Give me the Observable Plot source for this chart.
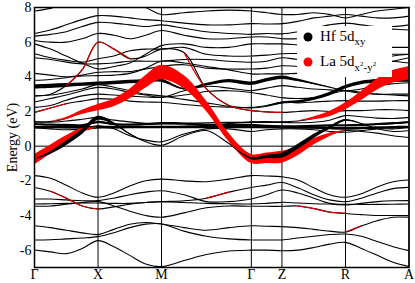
<!DOCTYPE html>
<html><head><meta charset="utf-8">
<script src="https://cdn.jsdelivr.net/npm/d3@7"></script>
<script src="https://cdn.jsdelivr.net/npm/@observablehq/plot@0.6"></script>
<style>
body{margin:0;background:#fff;}
#wrap{position:relative;width:415px;height:283px;overflow:hidden;font-family:'Liberation Serif',serif;}
#wrap svg text{font-family:'Liberation Serif',serif;}
#legend{position:absolute;left:0;top:0;}
</style></head><body><div id="wrap"></div>
<script>
// high-symmetry path
const kLabels = ["Γ","X","M","Γ","Z","R","A"];
const kTicks = [0, 1, 2, 3.414, 3.896, 4.896, 5.896];
const kGrid = [0,0.25,0.5,0.75,1, 1.25,1.5,1.75,2, 2.354,2.707,3.061,3.414, 3.655,3.896, 4.146,4.396,4.646,4.896, 5.146,5.396,5.646,5.896];
const yTicks = [-6,-4,-2,0,2,4,6,8];

// valence bands (eV)
const v1 = [-1.70,-1.85,-2.25,-2.70,-2.95, -2.70,-2.30,-2.00,-1.90, -2.00,-2.05,-1.90,-1.70, -1.72,-1.76, -1.95,-2.40,-2.80,-2.95, -2.75,-2.35,-2.05,-1.95];
const v2 = [-2.38,-2.60,-3.00,-3.45,-3.62, -3.50,-3.35,-3.25,-3.20, -3.15,-3.00,-2.65,-2.38, -2.25,-2.10, -2.40,-2.80,-3.10,-3.20, -3.00,-2.70,-2.45,-2.38];
const v3 = [-3.05,-3.05,-3.10,-3.15,-3.14, -3.00,-2.80,-2.65,-2.57, -2.80,-3.20,-3.20,-3.05, -2.80,-2.53, -2.70,-3.00,-3.30,-3.39, -3.30,-3.20,-3.15,-3.14];
const v4 = [-3.34,-3.32,-3.30,-3.28,-3.28, -3.30,-3.30,-3.25,-3.20, -3.25,-3.30,-3.32,-3.34, -3.30,-3.24, -3.28,-3.32,-3.34,-3.35, -3.36,-3.36,-3.35,-3.34];
const v5 = [-3.47,-3.45,-3.35,-3.25,-3.20, -3.45,-3.75,-4.00,-4.10, -3.85,-3.55,-3.45,-3.47, -3.47,-3.47, -3.45,-3.60,-3.80,-3.88, -3.95,-4.00,-4.00,-4.01];
const v6 = [-4.59,-4.70,-4.85,-5.00,-5.10, -4.80,-4.50,-4.40,-4.49, -4.70,-4.85,-4.70,-4.59, -4.62,-4.64, -4.70,-4.80,-4.90,-4.95, -4.60,-4.30,-4.10,-4.10];
const v7 = [-5.41,-5.40,-5.35,-5.30,-5.22, -5.00,-4.70,-4.50,-4.49, -4.90,-5.20,-5.35,-5.41, -5.41,-5.41, -5.30,-5.20,-5.10,-5.07, -5.20,-5.50,-5.80,-6.03];
const v8 = [-5.99,-6.10,-6.20,-5.90,-5.45, -5.80,-6.30,-6.80,-6.95, -6.60,-6.25,-6.05,-6.00, -6.00,-6.03, -6.00,-5.85,-5.65,-5.55, -5.90,-6.30,-6.70,-6.95];

// conduction bands (eV)
const c1 = [-0.78,-0.20,0.40,0.90,1.05, 1.05,1.08,1.10,1.12, 1.15,1.20,1.30,1.40, 1.42,1.40, 1.45,1.60,1.85,2.30, 2.90,3.55,4.00,4.20];
const c2 = [-0.78,-0.40,0.15,0.80,1.60, 1.30,0.70,0.25,0.05, 0.60,0.90,0.15,-0.72, -0.62,-0.55, -0.05,0.55,1.05,1.50, 1.30,1.00,0.85,0.90];
const c3 = [1.05,1.00,0.95,1.00,1.18, 1.00,0.60,0.35,0.25, 0.70,1.00,1.00,0.85, 0.95,1.00, 1.00,0.95,0.85,0.80, 0.90,1.00,1.00,1.08];
const f1 = [1.08,1.07,1.06,1.06,1.08, 1.08,1.08,1.08,1.08, 1.08,1.08,1.08,1.08, 1.07,1.08, 1.06,1.05,1.02,1.00, 1.02,1.05,1.07,1.08];
const f2 = [1.25,1.22,1.20,1.18,1.37, 1.25,1.22,1.25,1.30, 1.28,1.22,1.20,1.20, 1.15,1.12, 1.12,1.15,1.18,1.18, 1.20,1.25,1.30,1.37];
const f3 = [1.40,1.38,1.45,1.55,1.66, 1.50,1.40,1.32,1.30, 1.32,1.35,1.37,1.37, 1.37,1.37, 1.35,1.38,1.50,1.76, 1.70,1.62,1.60,1.66];
const u1 = [1.40,1.42,1.60,1.95,2.22, 2.50,3.00,3.70,4.25, 3.70,2.30,0.50,-0.74, -0.70,-0.64, -0.30,0.25,0.65,0.90, 0.85,0.75,0.60,0.50];
const u2 = [1.95,2.20,2.45,2.60,2.74, 2.70,2.60,2.55,2.53, 2.40,2.30,2.25,2.24, 2.35,2.53, 2.50,2.55,2.60,2.63, 2.60,2.60,2.62,2.63];
const u3 = [2.24,2.35,2.65,2.90,3.00, 2.95,2.88,2.84,2.82, 2.95,3.15,3.20,3.10, 2.95,2.80, 2.75,2.80,3.00,3.20, 3.10,3.00,3.00,3.00];
const u4 = [2.55,2.75,2.95,3.20,3.39, 3.30,3.10,2.95,2.82, 3.20,3.45,3.35,3.20, 3.35,3.49, 3.40,3.30,3.25,3.20, 3.30,3.50,3.60,3.66];
const u5 = [3.42,3.45,3.50,3.55,3.60, 3.65,3.70,3.75,3.78, 3.30,3.55,3.75,3.60, 3.80,3.95, 3.80,3.60,3.40,3.20, 3.05,3.00,2.95,2.90];
const u6 = [2.90,2.95,3.10,3.30,3.55, 3.40,3.20,3.00,2.90, 2.70,2.50,2.30,2.20, 2.30,2.50, 2.55,2.72,3.00,3.40, 3.65,3.75,3.78,3.78];
const u7 = [3.80,3.85,3.95,4.05,4.07, 4.10,4.20,4.50,4.90, 4.80,4.60,4.40,4.17, 4.17,4.17, 4.20,4.20,4.20,4.17, 4.40,4.70,4.90,5.10];
const u8 = [4.20,4.10,4.00,4.10,4.26, 4.30,4.30,4.45,4.60, 4.70,4.50,4.45,4.45, 4.50,4.64, 4.60,4.60,4.60,4.60, 4.80,5.00,5.20,5.30];
const u9 = [2.90,3.00,3.50,4.40,6.00, 5.60,5.05,5.20,5.60, 5.40,3.30,2.35,2.05, 1.98,1.95, 2.00,2.05,2.00,2.05, 2.05,2.10,2.10,2.05];
const u10 = [5.10,5.00,4.85,4.75,4.75, 4.80,4.90,4.90,4.90, 5.00,5.00,4.90,4.84, 4.90,5.10, 5.00,5.00,5.00,5.00, 5.00,4.95,4.90,4.80];
const u11 = [5.33,5.10,4.95,4.85,5.04, 5.20,5.50,5.60,5.60, 5.70,5.30,5.20,5.20, 5.25,5.33, 5.35,5.40,5.40,5.40, 5.35,5.30,5.30,5.30];
const u12 = [5.90,5.60,5.20,4.80,4.46, 4.60,4.80,5.30,5.80, 5.90,5.70,5.70,5.90, 5.90,5.90, 5.85,5.80,5.80,5.80, 5.75,5.70,5.70,5.70];
const u13 = [6.10,6.00,6.00,6.20,6.50, 6.40,6.20,6.40,6.67, 6.40,6.20,6.20,6.30, 6.30,6.20, 6.20,6.30,6.50,6.80, 6.80,6.80,6.75,6.70];
const u14 = [6.35,6.45,6.60,6.90,7.14, 7.10,7.00,6.90,7.00, 6.80,6.60,6.50,6.45, 6.50,6.48, 6.60,6.80,7.00,7.10, 7.00,6.90,6.90,7.00];
const u15 = [6.50,6.70,7.00,7.30,7.53, 7.50,7.40,7.30,7.24, 7.10,7.00,7.00,7.07, 7.05,7.07, 7.20,7.40,7.50,7.60, 7.50,7.40,7.40,7.50];
const u16 = [7.80,7.95,8.20,8.50,8.50, 8.50,8.30,8.00,7.60, 7.70,7.80,7.85,7.80, 7.70,7.60, 7.60,7.70,7.60,7.40, 7.60,7.80,7.90,8.00];

// fat-band half widths (eV): La 5d x2-y2 (red) and Hf 5d xy (black)
const wRedC1 = [0.30,0.26,0.20,0.12,0, 0,0,0,0, 0,0,0,0, 0,0, 0,0.08,0.15,0.20, 0.26,0.32,0.36,0.38];
const wRedU1 = [0,0,0.06,0.12,0.18, 0.22,0.28,0.36,0.42, 0.38,0.30,0.24,0.26, 0.30,0.34, 0.26,0.18,0.10,0, 0,0,0,0];
const wBlkC2 = [0,0.08,0.13,0.14,0.12, 0.06,0.03,0,0, 0,0,0,0.06, 0.10,0.14, 0.14,0.12,0.08,0.04, 0,0,0,0];
const wBlkU5 = [0.12,0.12,0.11,0.10,0.10, 0.10,0.10,0.10,0.10, 0.04,0.07,0.09,0.10, 0.10,0.10, 0.07,0.04,0.02,0, 0,0,0,0];
const wBlkU6 = [0,0,0,0,0, 0,0,0,0, 0,0,0,0, 0,0.05, 0.07,0.09,0.10,0.10, 0.10,0.10,0.10,0.10];
const wBlkF1 = [0.07,0.07,0.07,0.07,0.07, 0.07,0.07,0.07,0.07, 0.07,0.07,0.07,0.07, 0.07,0.07, 0.07,0.07,0.07,0.07, 0.07,0.07,0.07,0.07];
const wBlkF2 = [0.06,0.06,0.06,0.06,0.06, 0.06,0.06,0.06,0.06, 0.06,0.06,0.06,0.06, 0.06,0.06, 0.06,0.06,0.06,0.06, 0.06,0.06,0.06,0.06];

// thin red (weak La character) segments: [band, first index, last index]
const redThin = [["v2",1,4],["v2",10,11],["v5",15,18],["v6",18,19],["u2",0,2],["u9",2,6],["u9",9,14]];

const bandMap = {v1,v2,v3,v4,v5,v6,v7,v8,c1,c2,c3,f1,f2,f3,u1,u2,u3,u4,u5,u6,u7,u8,u9,u10,u11,u12,u13,u14,u15,u16};
const rows = Object.entries(bandMap).flatMap(([name,E]) => E.map((e,i)=>({band:name,k:kGrid[i],E:e})));

const redRows = redThin.flatMap(([name,i0,i1],s) => d3.range(i0,i1+1).map(i=>({seg:s,k:kGrid[i],E:bandMap[name][i]})));

function fatRows(name, w, tag) {
  const E = bandMap[name]; const out = []; let run = 0, prev = false;
  for (let i=0;i<E.length;i++){
    const on = w[i]>0 || (i>0 && w[i-1]>0) || (i<E.length-1 && w[i+1]>0);
    if (on && !prev) run++;
    if (on) out.push({id:tag+name+run,k:kGrid[i],lo:E[i]-w[i],hi:E[i]+w[i]});
    prev = on;
  }
  return out;
}
const redFat = [...fatRows("c1",wRedC1,"r"),...fatRows("u1",wRedU1,"r")];
const blkFatA = [...fatRows("u5",wBlkU5,"b"),...fatRows("u6",wBlkU6,"b"),...fatRows("f1",wBlkF1,"b"),...fatRows("f2",wBlkF2,"b")];
const blkFatB = fatRows("c2",wBlkC2,"b");

const labelMap = new Map(kTicks.map((k,i)=>[k,kLabels[i]]));
const curve = "catmull-rom";

const chart = Plot.plot({
  width:415, height:283,
  marginLeft:34, marginRight:6.5, marginTop:7, marginBottom:16,
  x:{domain:[0,5.896]},
  y:{domain:[-7,8]},
  style:{fontFamily:"Liberation Serif", fontSize:"14px", color:"#000", background:"#fff"},
  marks:[
    Plot.ruleX(kTicks,{stroke:"#000",strokeWidth:1}),
    Plot.ruleY([0],{stroke:"#000",strokeWidth:1}),
    Plot.line(rows,{x:"k",y:"E",z:"band",curve,stroke:"#000",strokeWidth:1.1,clip:true}),
    Plot.areaY(blkFatA,{x:"k",y1:"lo",y2:"hi",z:"id",curve,fill:"#000",clip:true}),
    Plot.areaY(redFat,{x:"k",y1:"lo",y2:"hi",z:"id",curve,fill:"#ff0000",clip:true}),
    Plot.areaY(blkFatB,{x:"k",y1:"lo",y2:"hi",z:"id",curve,fill:"#000",clip:true}),
    Plot.line(redRows,{x:"k",y:"E",z:"seg",curve,stroke:"#d40000",strokeWidth:1.2,clip:true}),
    Plot.frame({stroke:"#000",strokeWidth:1.5}),
    Plot.axisX(kTicks,{tickSize:0,tickPadding:2,fontSize:14,tickFormat:d=>labelMap.get(d),label:null}),
    Plot.axisY(yTicks,{tickSize:0,tickPadding:3,fontSize:14,tickFormat:d=>String(d),label:"Energy (eV)",labelAnchor:"center",labelArrow:"none",labelOffset:27})
  ]
});
const wrap = document.getElementById("wrap");
wrap.append(chart);

const ns = "http://www.w3.org/2000/svg";
const leg = document.createElementNS(ns,"svg");
leg.setAttribute("id","legend"); leg.setAttribute("width","415"); leg.setAttribute("height","283");
leg.innerHTML = `
<rect x="297" y="26" width="95" height="51" fill="#fff"/>
<circle cx="308" cy="37" r="4.5" fill="#000"/>
<text x="320" y="41" font-family="Liberation Serif" font-size="15" fill="#000">Hf 5d<tspan dy="4" font-size="11">xy</tspan></text>
<circle cx="308" cy="62" r="4.5" fill="#ff0000"/>
<text x="320" y="66" font-family="Liberation Serif" font-size="15" fill="#000">La 5d<tspan dy="5" font-size="11">x</tspan><tspan dy="-5" font-size="7">2</tspan><tspan dy="5" font-size="11">-y</tspan><tspan dy="-5" font-size="7">2</tspan></text>`;
wrap.append(leg);
</script></body></html>
